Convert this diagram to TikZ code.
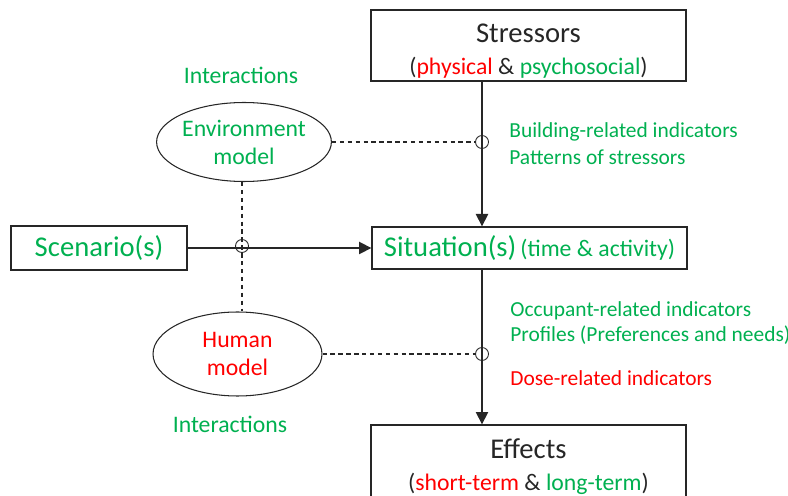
\documentclass[tikz,border=0pt]{standalone}
\usepackage{fontspec}
\setmainfont{Carlito}
\usetikzlibrary{arrows.meta,shapes.geometric}
\definecolor{grn}{RGB}{0,176,80}
\definecolor{rd}{RGB}{255,0,0}
\definecolor{ink}{RGB}{38,38,38}
\newcommand{\bigtxt}{\fontsize{16.3}{19}\selectfont}
\newcommand{\midtxt}{\fontsize{13.5}{16}\selectfont}
\newcommand{\smalltxt}{\fontsize{12.2}{14}\selectfont}

\begin{document}
\begin{tikzpicture}[x=0.02cm,y=-0.02cm,
    box/.style={draw=ink,line width=0.8pt,minimum width=6.3cm,align=center,text=ink,inner sep=0pt},
    model/.style={draw=ink,ellipse,line width=0.6pt,minimum width=3.38cm,minimum height=1.58cm,align=center,inner sep=0pt,font=\midtxt},
    hole/.style={draw=ink,circle,line width=0.5pt,inner sep=0pt,minimum size=0.26cm},
    link/.style={draw=ink,line width=0.6pt,dash pattern=on 2.5pt off 2pt},
    flow/.style={draw=ink,line width=0.9pt,-{Triangle[length=7pt,width=7pt]}},
    note/.style={text=grn,anchor=west,inner sep=0pt,font=\smalltxt}]
\useasboundingbox (0,0) rectangle (788,496);
\clip (0,0) rectangle (788,496);
% boxes
\node[box,minimum height=1.42cm] (stress) at (528.5,45.5)
    {\rule{0pt}{17pt}{\bigtxt Stressors}\\[6pt]{\midtxt (\textcolor{rd}{physical} \& \textcolor{grn}{psychosocial})}};
\node[box,minimum height=0.84cm,text=grn] (sit) at (529.5,248)
    {{\bigtxt Situation(s)} {\midtxt (time \& activity)}};
\node[box,minimum height=1.46cm] (eff) at (528.5,461.5)
    {\rule{0pt}{17pt}{\bigtxt Effects}\\[6pt]{\midtxt (\textcolor{rd}{short-term} \& \textcolor{grn}{long-term})}};
\node[box,minimum width=3.52cm,minimum height=0.88cm,text=grn,font=\bigtxt] (scen) at (99,248) {Scenario(s)};
% models
\node[model,text=grn] (env) at (244,142) {Environment\\model};
\node[model,text=rd,minimum height=1.68cm] (hum) at (237.5,354) {Human\\model};
% crossings
\node[hole] (h1) at (482,142) {};
\node[hole] (h2) at (242,246) {};
\node[hole] (h3) at (482,354) {};
% connectors
\draw[flow] (stress.south -| h1) -- (sit.north -| h1);
\draw[flow] (sit.south -| h3) -- (eff.north -| h3);
\draw[flow] (scen.east) -- (sit.west);
\draw[link] (env.east) -- (h1.west);
\draw[link] (hum.east) -- (h3.west);
\draw[link] (env.south -| h2) -- (hum.north -| h2);
% labels
\node[note,anchor=center,font=\midtxt] (int1) at (241,75) {Interactions};
\node[note,anchor=center,font=\midtxt] (int2) at (230,424) {Interactions};
\node[note] (bri) at (509,132) {Building-related indicators};
\node[note] (pat) at (509,157) {Patterns of stressors};
\node[note] (ori) at (510,311) {Occupant-related indicators};
\node[note] (pro) at (510,335) {Profiles (Preferences and needs)};
\node[note,text=rd] (dri) at (510,378) {Dose-related indicators};
\end{tikzpicture}
\end{document}
